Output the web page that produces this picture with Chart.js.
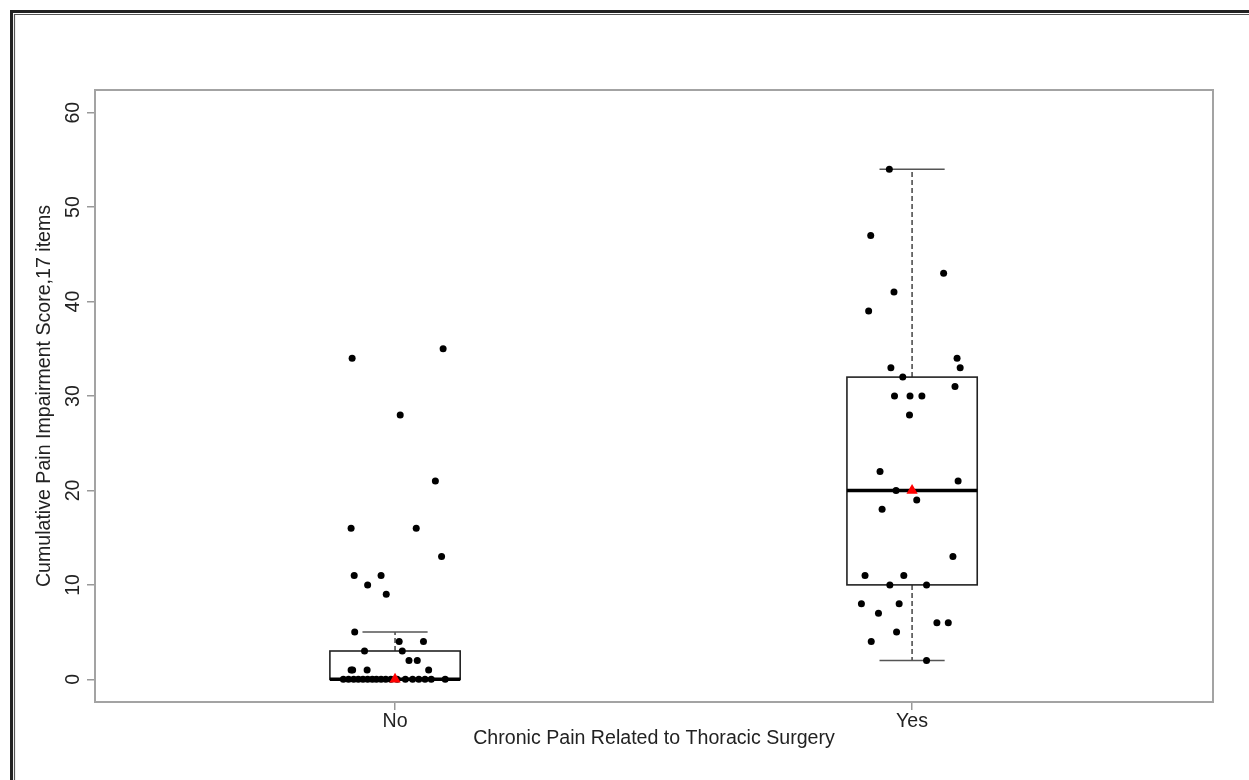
<!DOCTYPE html>
<html>
<head>
<meta charset="utf-8">
<script src="https://cdn.jsdelivr.net/npm/chart.js@4/dist/chart.umd.min.js"></script>
<style>
  html, body { margin: 0; padding: 0; background: #fff; }
  canvas { display: block; }
</style>
</head>
<body>
<canvas id="painChart" width="1249" height="780"></canvas>
<script>
// groups on the x axis
const groups = ['No', 'Yes'];
const yTicks = [0, 10, 20, 30, 40, 50, 60];

// box plot summaries per group
const whiskerLow = [0, 2];
const q1 = [0, 10];
const median = [0, 20];
const q3 = [3, 32];
const whiskerHigh = [5, 54];
const groupMarker = [0, 20];

// individual scores with their horizontal jitter
const noScores = [34, 35, 28, 21, 16, 16, 13, 11, 11, 10, 9, 5, 4, 4, 3, 3, 2, 2, 1, 1, 1, 1,
  0, 0, 0, 0, 0, 0, 0, 0, 0, 0, 0, 0, 0, 0, 0, 0, 0, 0];
const noJitter = [-0.083, 0.093, 0.010, 0.078, -0.085, 0.041, 0.090, -0.079, -0.027, -0.053, -0.017,
  -0.078, 0.008, 0.055, -0.059, 0.014, 0.027, 0.043, -0.085, -0.082, -0.054, 0.065,
  -0.100, -0.090, -0.080, -0.071, -0.062, -0.053, -0.044, -0.036, -0.027, -0.018, -0.008,
  0.004, 0.020, 0.034, 0.046, 0.058, 0.070, 0.097];
const yesScores = [54, 47, 43, 41, 39, 34, 33, 33, 32, 31, 30, 30, 30, 28, 22, 21, 20, 19, 18,
  13, 11, 11, 10, 10, 8, 8, 7, 6, 6, 5, 4, 2];
const yesJitter = [-0.044, -0.080, 0.061, -0.035, -0.084, 0.087, 0.093, -0.041, -0.018, 0.083,
  -0.034, -0.004, 0.019, -0.005, -0.062, 0.089, -0.031, 0.009, -0.058, 0.079, -0.091, -0.016,
  -0.043, 0.028, -0.098, -0.025, -0.065, 0.048, 0.070, -0.030, -0.079, 0.028];

function toPoints(scores, jitter, pos) {
  return scores.map(function (s, i) { return { x: pos + jitter[i], y: s }; });
}

const boxPlugin = {
  id: 'boxPlugin',
  beforeDraw: function (chart) {
    const ctx = chart.ctx;
    ctx.save();
    ctx.fillStyle = '#fff';
    ctx.fillRect(0, 0, chart.width, chart.height);
    // outer double frame of the figure
    ctx.strokeStyle = '#222';
    ctx.lineWidth = 3;
    ctx.beginPath();
    ctx.moveTo(11.5, chart.height);
    ctx.lineTo(11.5, 11.5);
    ctx.lineTo(chart.width, 11.5);
    ctx.stroke();
    ctx.strokeStyle = '#555';
    ctx.lineWidth = 1.2;
    ctx.beginPath();
    ctx.moveTo(14.5, chart.height);
    ctx.lineTo(14.5, 14.5);
    ctx.lineTo(chart.width, 14.5);
    ctx.stroke();
    ctx.restore();
  },
  beforeDatasetsDraw: function (chart) {
    const ctx = chart.ctx;
    const xs = chart.scales.x;
    const ys = chart.scales.y;
    const area = chart.chartArea;
    ctx.save();
    // plot frame
    ctx.strokeStyle = '#a3a3a3';
    ctx.lineWidth = 2;
    ctx.strokeRect(area.left, area.top, area.right - area.left, area.bottom - area.top);

    groups.forEach(function (g, i) {
      const pos = i + 1;
      const xl = xs.getPixelForValue(pos - 0.126);
      const xr = xs.getPixelForValue(pos + 0.126);
      const xc = xs.getPixelForValue(pos);
      const cl = xs.getPixelForValue(pos - 0.063);
      const cr = xs.getPixelForValue(pos + 0.063);
      const yq1 = ys.getPixelForValue(q1[i]);
      const yq3 = ys.getPixelForValue(q3[i]);
      const ymed = ys.getPixelForValue(median[i]);
      const ylo = ys.getPixelForValue(whiskerLow[i]);
      const yhi = ys.getPixelForValue(whiskerHigh[i]);

      // whiskers
      ctx.strokeStyle = '#444';
      ctx.lineWidth = 1.5;
      ctx.setLineDash([5, 3]);
      ctx.beginPath();
      ctx.moveTo(xc, yq3); ctx.lineTo(xc, yhi);
      ctx.moveTo(xc, yq1); ctx.lineTo(xc, ylo);
      ctx.stroke();
      ctx.setLineDash([]);
      ctx.strokeStyle = '#555';
      ctx.beginPath();
      ctx.moveTo(cl, yhi); ctx.lineTo(cr, yhi);
      ctx.moveTo(cl, ylo); ctx.lineTo(cr, ylo);
      ctx.stroke();

      // box
      ctx.strokeStyle = '#222';
      ctx.lineWidth = 1.6;
      ctx.strokeRect(xl, yq3, xr - xl, yq1 - yq3);

      // median
      ctx.strokeStyle = '#000';
      ctx.lineWidth = 3.5;
      ctx.beginPath();
      ctx.moveTo(xl, ymed); ctx.lineTo(xr, ymed);
      ctx.stroke();
    });
    ctx.restore();
  }
};

document.addEventListener('DOMContentLoaded', function () {
  const canvas = document.getElementById('painChart');
  const ctx = canvas.getContext('2d');
  const font = { family: '"Liberation Sans", Arial, sans-serif', size: 19.6 };

  new Chart(ctx, {
    type: 'scatter',
    data: {
      datasets: [
        {
          label: 'No',
          data: toPoints(noScores, noJitter, 1),
          backgroundColor: '#000',
          borderWidth: 0,
          pointRadius: 3.5
        },
        {
          label: 'Yes',
          data: toPoints(yesScores, yesJitter, 2),
          backgroundColor: '#000',
          borderWidth: 0,
          pointRadius: 3.5
        },
        {
          label: 'marker',
          order: -1,
          data: groupMarker.map(function (v, i) { return { x: i + 1, y: v }; }),
          backgroundColor: '#ff0000',
          borderWidth: 0,
          pointStyle: 'triangle',
          pointRadius: 6.5
        }
      ]
    },
    options: {
      responsive: false,
      animation: false,
      devicePixelRatio: 1,
      layout: { padding: { left: 0, top: 90, right: 36, bottom: 0 } },
      plugins: {
        legend: { display: false },
        tooltip: { enabled: false }
      },
      scales: {
        x: {
          type: 'linear',
          min: 0.4197,
          max: 2.582,
          afterBuildTicks: function (scale) {
            scale.ticks = groups.map(function (g, i) { return { value: i + 1 }; });
          },
          afterFit: function (scale) { scale.height = 78; },
          border: { display: false },
          grid: { drawOnChartArea: false, drawTicks: true, tickLength: 8, color: '#999', lineWidth: 1.5 },
          ticks: {
            color: '#222',
            font: font,
            padding: 0,
            maxRotation: 0,
            autoSkip: false,
            callback: function (v) { return groups[Math.round(v) - 1] || ''; }
          },
          title: {
            display: true,
            text: 'Chronic Pain Related to Thoracic Surgery',
            color: '#222',
            font: font,
            padding: { top: 0, bottom: 30 }
          }
        },
        y: {
          min: -2.4,
          max: 62.4,
          afterBuildTicks: function (scale) {
            scale.ticks = yTicks.map(function (v) { return { value: v }; });
          },
          afterFit: function (scale) { scale.width = 95; },
          border: { display: false },
          grid: { drawOnChartArea: false, drawTicks: true, tickLength: 8, color: '#999', lineWidth: 1.5 },
          ticks: {
            color: '#222',
            font: font,
            padding: 3,
            minRotation: 90,
            maxRotation: 90,
            crossAlign: 'center'
          },
          title: {
            display: true,
            text: 'Cumulative Pain Impairment Score,17 items',
            color: '#222',
            font: font,
            padding: { top: 33, bottom: 0 }
          }
        }
      }
    },
    plugins: [boxPlugin]
  });
});
</script>
</body>
</html>
